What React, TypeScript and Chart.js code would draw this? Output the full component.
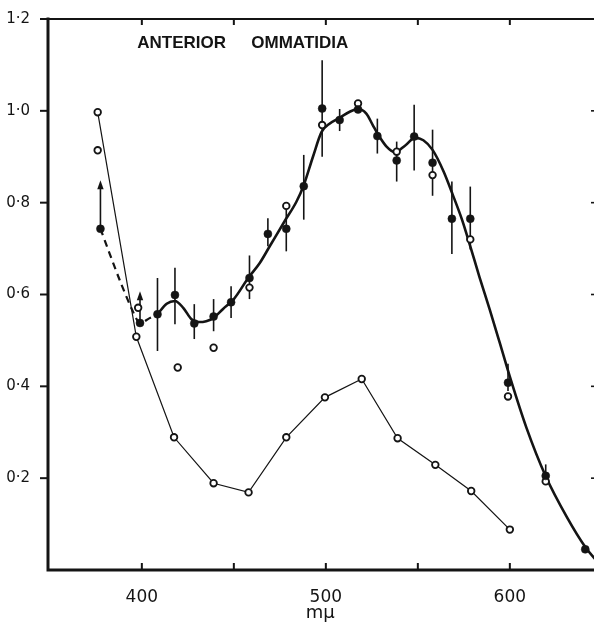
import { useEffect, useRef } from 'react';
import { Chart, registerables } from 'chart.js';

Chart.register(...registerables);

// ---- data ----
const anteriorX = [377.5, 399, 408.5, 418, 428.5, 439, 448.5, 458.5, 468.5, 478.5, 488, 498, 507.5, 517.5, 528, 538.5, 548, 558, 568.5, 578.5, 599, 619.5, 641];
const anteriorY = [0.743, 0.538, 0.557, 0.599, 0.537, 0.552, 0.583, 0.636, 0.732, 0.743, 0.836, 1.005, 0.98, 1.003, 0.945, 0.892, 0.944, 0.887, 0.765, 0.765, 0.408, 0.205, 0.045];
const errLow = [null, null, 0.477, 0.535, 0.503, 0.52, 0.549, 0.59, 0.705, 0.694, 0.763, 0.9, 0.956, null, 0.907, 0.846, 0.87, 0.815, 0.688, 0.698, 0.39, 0.19, null];
const errHigh = [null, null, 0.636, 0.658, 0.579, 0.59, 0.618, 0.685, 0.766, 0.79, 0.904, 1.11, 1.004, null, 0.983, 0.933, 1.013, 0.959, 0.846, 0.835, 0.449, 0.23, null];

const arrowX = [377.5, 399];
const arrowBase = [0.743, 0.538];
const arrowTip = [0.849, 0.607];

const openX = [376, 398, 419.5, 439, 458.5, 478.5, 498, 517.5, 538.5, 558, 578.5, 599, 619.5];
const openY = [0.914, 0.571, 0.441, 0.484, 0.615, 0.793, 0.969, 1.016, 0.911, 0.86, 0.72, 0.378, 0.193];

const lowerX = [376, 397, 417.5, 439, 458, 478.5, 499.5, 519.5, 539, 559.5, 579, 600];
const lowerY = [0.997, 0.508, 0.289, 0.189, 0.169, 0.289, 0.376, 0.416, 0.287, 0.229, 0.172, 0.088];

const dashX = [377.5, 388, 395.5, 399, 404, 408.5];
const dashY = [0.743, 0.631, 0.56, 0.538, 0.548, 0.557];

const curveX = [408.5, 413.5, 418, 422.5, 427, 431, 435, 439, 444, 450, 458, 464, 469.5, 477.5, 484, 488, 493, 497.7, 502, 507.5, 513, 517.5, 522, 525.5, 528, 533, 537.5, 543, 548.5, 553, 558, 564, 569, 574, 578.5, 583.5, 589, 594.5, 600, 609, 619.5, 631, 641, 648];
const curveY = [0.557, 0.58, 0.586, 0.571, 0.546, 0.54, 0.542, 0.549, 0.568, 0.59, 0.637, 0.668, 0.705, 0.759, 0.802, 0.838, 0.9, 0.954, 0.972, 0.985, 0.998, 1.004, 0.994, 0.969, 0.951, 0.922, 0.91, 0.924, 0.941, 0.936, 0.915, 0.868, 0.817, 0.763, 0.705, 0.638, 0.568, 0.495, 0.421, 0.31, 0.204, 0.115, 0.05, 0.016];

const xMinorTicks = [400, 450, 500, 550, 600];
const xLabelTicks = [400, 500, 600];
const yLeftTicks = [0.2, 0.4, 0.6, 0.8, 1.0, 1.2];
const yRightTicks = [0.2, 0.4, 0.6, 0.8, 1.0];

const titleWords = ['ANTERIOR', 'OMMATIDIA'];
const xAxisTitle = 'mμ';

const INK = '#141414';

const pts = (xs: number[], ys: number[]) => xs.map((x, i) => ({ x, y: ys[i] }));

const decorPlugin = {
  id: 'decor',
  beforeDatasetsDraw(chart: any) {
    const { ctx, scales } = chart;
    const sx = scales.x;
    const sy = scales.y;
    ctx.save();
    ctx.strokeStyle = INK;
    ctx.fillStyle = INK;
    ctx.lineWidth = 1.6;
    ctx.lineCap = 'butt';
    anteriorX.forEach((x, i) => {
      const lo = errLow[i];
      const hi = errHigh[i];
      if (lo == null || hi == null) return;
      const px = sx.getPixelForValue(x);
      ctx.beginPath();
      ctx.moveTo(px, sy.getPixelForValue(lo));
      ctx.lineTo(px, sy.getPixelForValue(hi));
      ctx.stroke();
    });
    arrowX.forEach((x, i) => {
      const px = sx.getPixelForValue(x);
      const pb = sy.getPixelForValue(arrowBase[i]);
      const pt = sy.getPixelForValue(arrowTip[i]);
      ctx.beginPath();
      ctx.moveTo(px, pb);
      ctx.lineTo(px, pt + 6);
      ctx.stroke();
      ctx.beginPath();
      ctx.moveTo(px, pt);
      ctx.lineTo(px - 3.2, pt + 9);
      ctx.lineTo(px + 3.2, pt + 9);
      ctx.closePath();
      ctx.fill();
    });
    ctx.restore();
  },
  afterDraw(chart: any) {
    const { ctx, chartArea, scales } = chart;
    const { left, right, top, bottom } = chartArea;
    const sx = scales.x;
    const sy = scales.y;
    ctx.save();
    ctx.strokeStyle = INK;
    ctx.fillStyle = INK;
    ctx.lineCap = 'square';
    // frame
    ctx.lineWidth = 3;
    ctx.beginPath();
    ctx.moveTo(left, top);
    ctx.lineTo(left, bottom);
    ctx.lineTo(right, bottom);
    ctx.stroke();
    ctx.lineWidth = 2.2;
    ctx.beginPath();
    ctx.moveTo(left, top);
    ctx.lineTo(right, top);
    ctx.lineTo(right, bottom);
    ctx.stroke();
    ctx.lineCap = 'butt';
    // left ticks (outward)
    ctx.lineWidth = 2;
    yLeftTicks.forEach((v) => {
      const py = sy.getPixelForValue(v);
      ctx.beginPath();
      ctx.moveTo(left - 8, py);
      ctx.lineTo(left, py);
      ctx.stroke();
    });
    // bottom and top ticks (inward)
    xMinorTicks.forEach((v) => {
      const px = sx.getPixelForValue(v);
      ctx.beginPath();
      ctx.moveTo(px, bottom);
      ctx.lineTo(px, bottom - 7);
      ctx.moveTo(px, top);
      ctx.lineTo(px, top + 6);
      ctx.stroke();
    });
    // right ticks (inward, the right border itself lies past the picture edge)
    ctx.lineWidth = 1.6;
    yRightTicks.forEach((v) => {
      const py = sy.getPixelForValue(v);
      ctx.beginPath();
      ctx.moveTo(right - 9, py);
      ctx.lineTo(right, py);
      ctx.stroke();
    });
    // panel title
    ctx.font = 'bold 17px "Liberation Sans", Arial, sans-serif';
    ctx.textBaseline = 'alphabetic';
    ctx.textAlign = 'left';
    ctx.fillText(titleWords[0], sx.getPixelForValue(397.5), top + 29);
    ctx.fillText(titleWords[1], sx.getPixelForValue(459.5), top + 29);
    // x axis title
    ctx.font = '18px "DejaVu Sans", sans-serif';
    ctx.textAlign = 'center';
    ctx.fillText(xAxisTitle, sx.getPixelForValue(497), bottom + 48);
    ctx.restore();
  },
};

export default function App() {
  const ref = useRef<HTMLCanvasElement | null>(null);
  useEffect(() => {
    if (!ref.current) return;
    const chart = new Chart(ref.current, {
      type: 'scatter',
      data: {
        datasets: [
          {
            label: 'anterior',
            data: pts(anteriorX, anteriorY),
            pointRadius: 4,
            pointBackgroundColor: INK,
            pointBorderColor: INK,
            pointBorderWidth: 0.5,
            showLine: false,
          },
          {
            label: 'open',
            data: pts(openX, openY),
            pointRadius: 3.3,
            pointBackgroundColor: '#ffffff',
            pointBorderColor: INK,
            pointBorderWidth: 1.8,
            showLine: false,
          },
          {
            label: 'curve',
            type: 'line',
            data: pts(curveX, curveY),
            borderColor: INK,
            borderWidth: 2.6,
            pointRadius: 0,
            cubicInterpolationMode: 'monotone',
            fill: false,
          },
          {
            label: 'dashed',
            type: 'line',
            data: pts(dashX, dashY),
            borderColor: INK,
            borderWidth: 2.2,
            borderDash: [7, 5],
            pointRadius: 0,
            tension: 0.3,
            fill: false,
          },
          {
            label: 'lower',
            type: 'line',
            data: pts(lowerX, lowerY),
            borderColor: INK,
            borderWidth: 1.2,
            pointRadius: 3.3,
            pointBackgroundColor: '#ffffff',
            pointBorderColor: INK,
            pointBorderWidth: 1.8,
            tension: 0,
            fill: false,
          },
        ],
      } as any,
      options: {
        animation: false,
        responsive: false,
        devicePixelRatio: 1,
        layout: { padding: { top: 16, right: 12, left: 0, bottom: 0 } },
        plugins: { legend: { display: false }, tooltip: { enabled: false } },
        scales: {
          x: {
            type: 'linear',
            min: 349,
            max: 649,
            afterFit: (s: any) => {
              s.height = 54;
            },
            afterBuildTicks: (s: any) => {
              s.ticks = xLabelTicks.map((v) => ({ value: v }));
            },
            grid: { display: false },
            border: { display: false },
            ticks: {
              color: INK,
              padding: 9,
              autoSkip: false,
              maxRotation: 0,
              font: { family: '"DejaVu Sans", sans-serif', size: 17 },
              callback: (v: any) => String(v),
            },
          },
          y: {
            type: 'linear',
            min: 0,
            max: 1.2,
            afterFit: (s: any) => {
              s.width = 48;
            },
            afterBuildTicks: (s: any) => {
              s.ticks = yLeftTicks.map((v) => ({ value: v }));
            },
            grid: { display: false },
            border: { display: false },
            ticks: {
              color: INK,
              padding: 10,
              font: { family: '"DejaVu Sans", sans-serif', size: 15 },
              callback: (v: any) => Number(v).toFixed(1).replace('.', '·'),
            },
          },
        },
      } as any,
      plugins: [decorPlugin],
    });
    return () => chart.destroy();
  }, []);

  return (
    <div
      style={{
        position: 'fixed',
        left: 0,
        top: 0,
        width: 594,
        height: 624,
        overflow: 'hidden',
        background: '#ffffff',
      }}
    >
      <canvas ref={ref} width={612} height={624} style={{ width: 612, height: 624, display: 'block' }} />
    </div>
  );
}
